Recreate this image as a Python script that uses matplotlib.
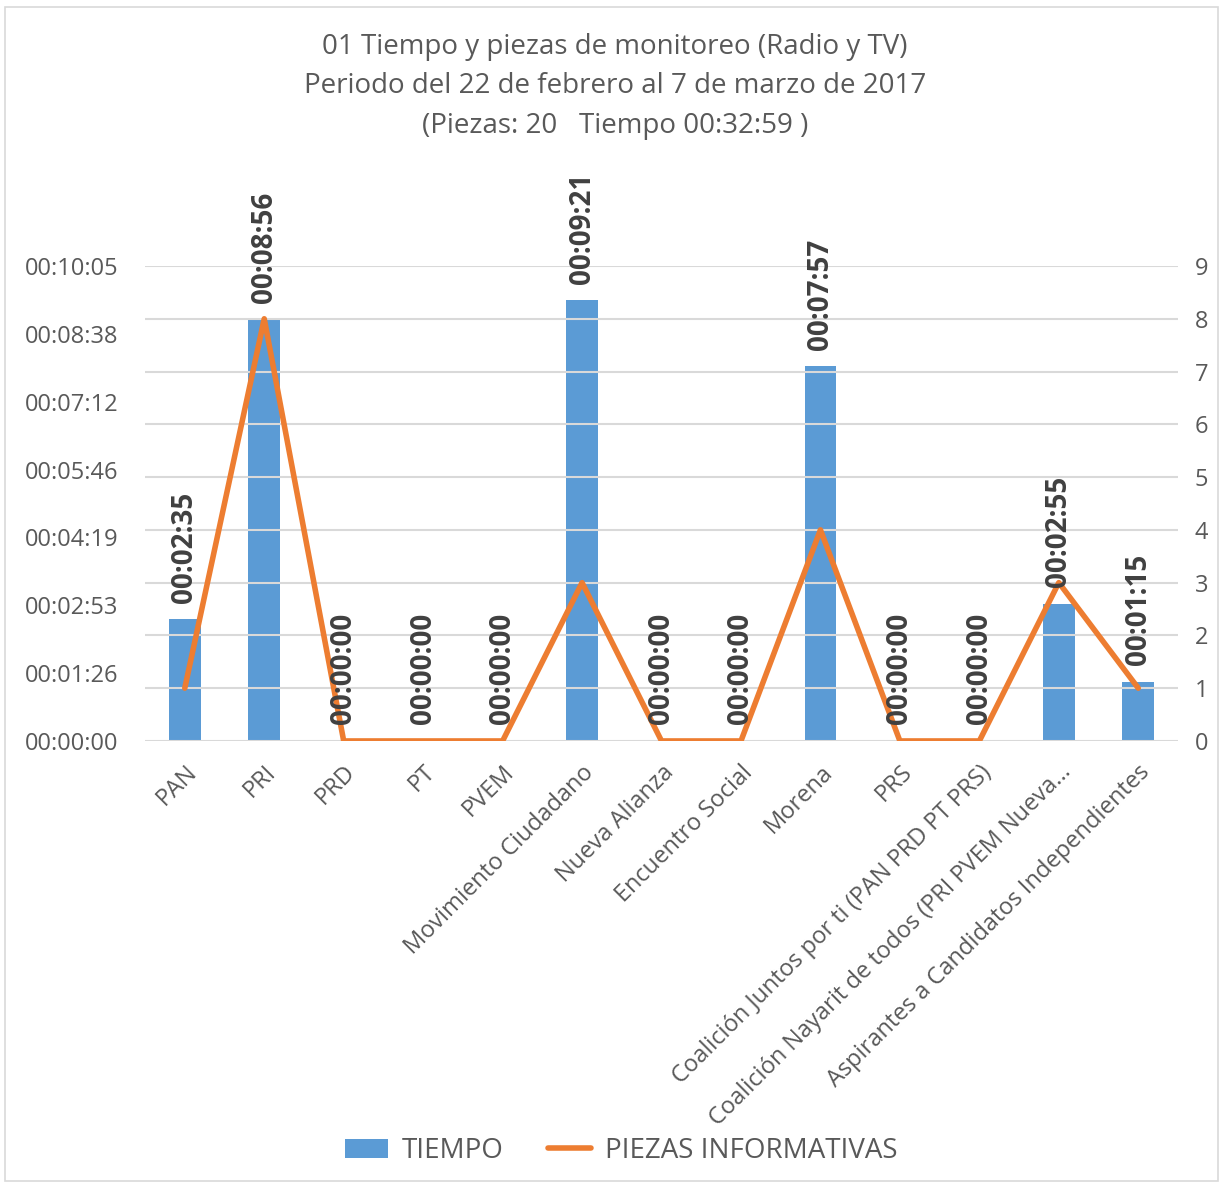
import matplotlib
matplotlib.use("Agg")
import matplotlib.pyplot as plt
from matplotlib.ticker import FuncFormatter, FixedLocator
from matplotlib.patches import Rectangle
from matplotlib.lines import Line2D
from matplotlib.patches import Patch

plt.rcParams['font.family'] = ['Open Sans', 'DejaVu Sans']

categorias = ["PAN", "PRI", "PRD", "PT", "PVEM", "Movimiento Ciudadano",
              "Nueva Alianza", "Encuentro Social", "Morena", "PRS",
              "Coalición Juntos por ti (PAN PRD PT PRS)",
              "Coalición Nayarit de todos (PRI PVEM Nueva…",
              "Aspirantes a Candidatos Independientes"]
tiempo_seg = [155, 536, 0, 0, 0, 561, 0, 0, 477, 0, 0, 175, 75]
piezas = [1, 8, 0, 0, 0, 3, 0, 0, 4, 0, 0, 3, 1]

titulo = ("01 Tiempo y piezas de monitoreo (Radio y TV)\n"
          "Periodo del 22 de febrero al 7 de marzo de 2017\n"
          "(Piezas: 20   Tiempo 00:32:59 )")

azul = "#5b9bd5"
naranja = "#ed7d31"
gris = "#595959"
rejilla = "#d9d9d9"


def hms(s, pos=None):
    s = int(round(s))
    return "%02d:%02d:%02d" % (s // 3600, (s % 3600) // 60, s % 60)


fig = plt.figure(figsize=(12.23, 11.88), dpi=100)
fig.patches.append(Rectangle((0.004, 0.006), 0.992, 0.988, transform=fig.transFigure,
                             fill=False, edgecolor=rejilla, linewidth=1.2))

ax = fig.add_axes([0.1186, 0.3763, 0.8446, 0.3998])
ax2 = ax.twinx()

x = list(range(len(categorias)))
ax.bar(x, tiempo_seg, width=0.4, color=azul, zorder=2)

paso = 86.4  # 0.001 dia
ax.set_ylim(0, 7 * paso)
ax.yaxis.set_major_locator(FixedLocator([i * paso for i in range(8)]))
ax.yaxis.set_major_formatter(FuncFormatter(hms))
ax.set_xlim(-0.5, len(categorias) - 0.5)
ax.set_xticks(x)
ax.set_xticklabels(categorias, rotation=45, ha='right', rotation_mode='anchor',
                   fontsize=17, color=gris)
ax.tick_params(axis='x', length=0, pad=14)
ax.tick_params(axis='y', length=0, pad=19, labelsize=17, labelcolor=gris)

ax2.plot(x, piezas, color=naranja, linewidth=4, solid_joinstyle='round',
         solid_capstyle='round', zorder=3)
ax2.set_ylim(0, 9)
ax2.set_yticks(range(10))
ax2.tick_params(axis='y', length=0, pad=12, labelsize=17, labelcolor=gris)
ax2.grid(axis='y', color=rejilla, linewidth=1.5, zorder=0)
ax.set_zorder(ax2.get_zorder() - 1)
ax.patch.set_visible(False)
ax2.patch.set_visible(False)

for a in (ax, ax2):
    for sp in a.spines.values():
        sp.set_visible(False)

for xi, t in zip(x, tiempo_seg):
    ax2.annotate(hms(t), xy=(xi, t / (7 * paso) * 9), xytext=(0, 12),
                 textcoords='offset points', rotation=90, ha='center', va='bottom',
                 fontsize=20, fontweight='bold', color="#404040", zorder=5)

fig.text(0.503, 0.972, titulo, ha='center', va='top', fontsize=20, color=gris,
         linespacing=1.53)

handles = [Patch(facecolor=azul, edgecolor='none'),
           Line2D([0], [0], color=naranja, linewidth=4, solid_capstyle='round')]
fig.legend(handles, ["TIEMPO", "PIEZAS INFORMATIVAS"], loc='center',
           bbox_to_anchor=(0.508, 0.031), ncol=2, frameon=False, fontsize=20,
           labelcolor=gris, handlelength=1.55, handletextpad=0.5, columnspacing=1.6)

fig.savefig("out.png", dpi=100)
